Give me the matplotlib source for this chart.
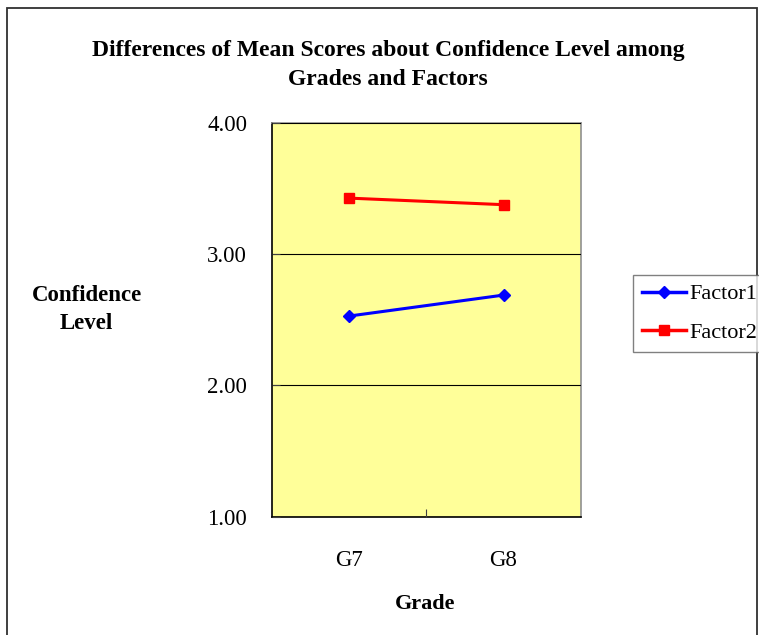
import matplotlib
matplotlib.use('Agg')
import matplotlib.pyplot as plt
from matplotlib.patches import Rectangle

# 데이터
grades = ['G7', 'G8']
factor1 = [2.53, 2.69]
factor2 = [3.43, 3.38]
y_ticks = [1.00, 2.00, 3.00, 4.00]

plt.rcParams['font.family'] = ['Liberation Serif', 'DejaVu Serif']

fig = plt.figure(figsize=(7.59, 6.35), dpi=100)
ax = fig.add_axes([0.3584, 0.1866, 0.4067, 0.619])
ax.set_facecolor('#FFFF99')

x = list(range(len(grades)))
ax.plot(x, factor1, color='#0000FF', lw=2.2, marker='D', ms=6.5, label='Factor1')
ax.plot(x, factor2, color='#FF0000', lw=2.2, marker='s', ms=6.5, label='Factor2')

ax.set_xlim(-0.5, len(grades) - 0.5)
ax.set_ylim(1, 4)
ax.set_yticks(y_ticks)
ax.set_yticklabels([f'{v:.2f}' for v in y_ticks], fontsize=16.5)
ax.yaxis.grid(True, color='black', lw=0.8)
ax.set_axisbelow(False)

# 카테고리 라벨은 minor tick, major tick 은 경계
ax.set_xticks([0.5])
ax.set_xticklabels([''])
ax.set_xticks(x, minor=True)
ax.set_xticklabels(grades, minor=True, fontsize=16.5)
ax.tick_params(axis='x', which='major', direction='in', length=6, color='#404040')
ax.tick_params(axis='x', which='minor', length=0, pad=24)
ax.tick_params(axis='y', direction='in', length=6, pad=18, color='#404040')

for s in ['left', 'bottom']:
    ax.spines[s].set_color('black')
    ax.spines[s].set_linewidth(1.2)
for s in ['top', 'right']:
    ax.spines[s].set_color('#909090')
    ax.spines[s].set_linewidth(1.2)

fig.text(0.511, 0.898, 'Differences of Mean Scores about Confidence Level among\nGrades and Factors',
         ha='center', va='center', fontsize=17, fontweight='bold', linespacing=1.5)
fig.text(0.114, 0.513, 'Confidence\nLevel', ha='center', va='center',
         fontsize=16.5, fontweight='bold', linespacing=1.45)
fig.text(0.56, 0.049, 'Grade', ha='center', va='center', fontsize=16, fontweight='bold')

leg = fig.legend(loc='upper left', bbox_to_anchor=(633 / 759, 1 - 275 / 635),
                 fontsize=16, frameon=True, fancybox=False, borderaxespad=0,
                 handlelength=2.0, handletextpad=0.15, borderpad=0.4, labelspacing=0.8)
leg.get_frame().set_edgecolor('#606060')
leg.get_frame().set_linewidth(1.0)
for line in leg.get_lines():
    line.set_linewidth(2.5)

# 차트 외곽선
fig.patches.append(Rectangle((7 / 759, -0.05), 750 / 759, 1.05 - 8 / 635,
                             transform=fig.transFigure, fill=False,
                             edgecolor='#303030', lw=1.3))

fig.savefig('out.png', dpi=100)
